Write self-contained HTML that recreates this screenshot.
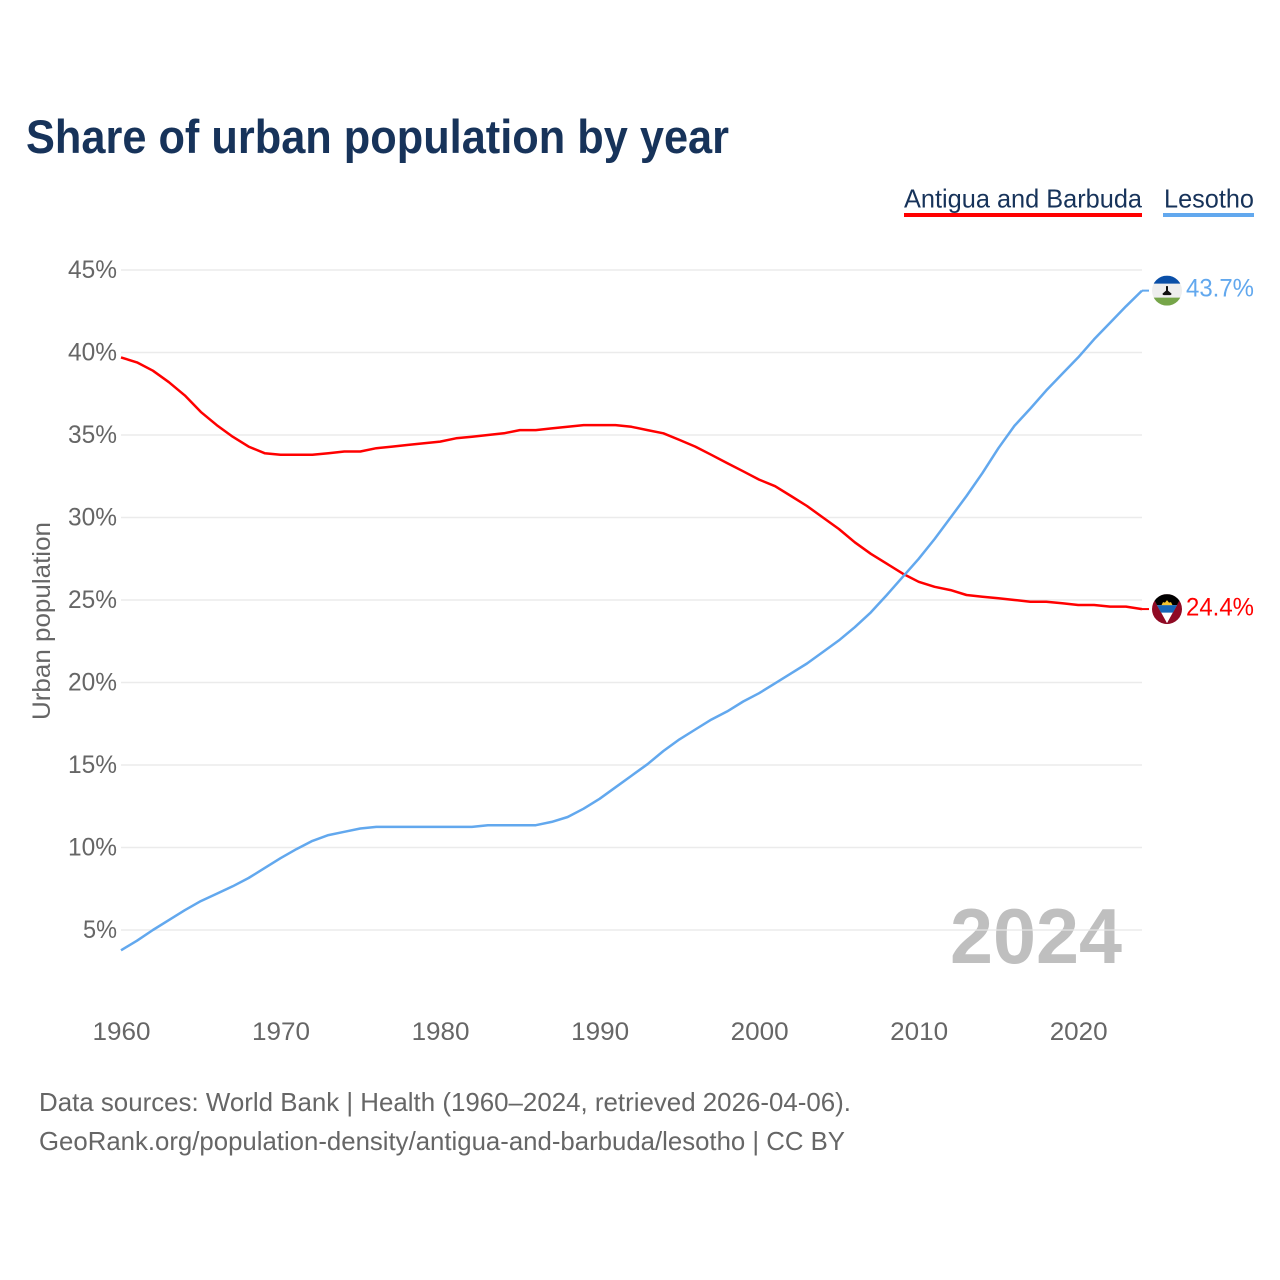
<!DOCTYPE html>
<html lang="en">
<head>
<meta charset="utf-8">
<title>Share of urban population by year</title>
<style>
html,body{margin:0;padding:0;background:#fff;width:1280px;height:1280px;overflow:hidden}
svg{display:block;font-family:"Liberation Sans",sans-serif}
</style>
</head>
<body>
<svg id="chart" xmlns="http://www.w3.org/2000/svg" width="1280" height="1280" viewBox="0 0 1280 1280">
  <defs>
    <clipPath id="clip-ls"><circle cx="0" cy="0" r="15"/></clipPath>
    <clipPath id="clip-ag"><circle cx="0" cy="0" r="15"/></clipPath>
  </defs>
  <rect width="1280" height="1280" fill="#fff"/>
  <text x="26" y="153" font-size="47" font-weight="700" fill="#17335a" textLength="703" lengthAdjust="spacingAndGlyphs">Share of urban population by year</text>

  <g>
    <text x="904" y="207.5" font-size="26" fill="#17335a" textLength="238" lengthAdjust="spacingAndGlyphs">Antigua and Barbuda</text>
    <rect x="904" y="213" width="238" height="4" fill="#ff0000"/>
  </g>
  <g>
    <text x="1164" y="207.5" font-size="26" fill="#17335a" textLength="90" lengthAdjust="spacingAndGlyphs">Lesotho</text>
    <rect x="1163" y="213" width="91" height="4" fill="#62a8ee"/>
  </g>

  <text x="1122" y="963" text-anchor="end" font-size="78" font-weight="700" fill="#bfbfbf" textLength="172" lengthAdjust="spacingAndGlyphs">2024</text>
  <g id="grid"></g>
  <g id="yticks"></g>
  <g id="xticks"></g>
  <text transform="translate(50,621) rotate(-90)" text-anchor="middle" font-size="25" fill="#666" textLength="198" lengthAdjust="spacingAndGlyphs">Urban population</text>

  <g id="series"></g>
  <g id="flags"></g>
  <g id="endlabels"></g>

  <text x="39" y="1111" font-size="26" fill="#666" textLength="812" lengthAdjust="spacingAndGlyphs">Data sources: World Bank | Health (1960–2024, retrieved 2026-04-06).</text>
  <text x="39" y="1150" font-size="26" fill="#666" textLength="806" lengthAdjust="spacingAndGlyphs">GeoRank.org/population-density/antigua-and-barbuda/lesotho | CC BY</text>
</svg>
<script>
const startYear = 1960;
const endYear = 2024;
const yTicks = [5, 10, 15, 20, 25, 30, 35, 40, 45];
const xTicks = [1960, 1970, 1980, 1990, 2000, 2010, 2020];
const antiguaValues = [
  39.7, 39.4, 38.9, 38.2, 37.4, 36.4, 35.6, 34.9, 34.3, 33.9,
  33.8, 33.8, 33.8, 33.9, 34.0, 34.0, 34.2, 34.3, 34.4, 34.5,
  34.6, 34.8, 34.9, 35.0, 35.1, 35.3, 35.3, 35.4, 35.5, 35.6,
  35.6, 35.6, 35.5, 35.3, 35.1, 34.7, 34.3, 33.8, 33.3, 32.8,
  32.3, 31.9, 31.3, 30.7, 30.0, 29.3, 28.5, 27.8, 27.2, 26.6,
  26.1, 25.8, 25.6, 25.3, 25.2, 25.1, 25.0, 24.9, 24.9, 24.8,
  24.7, 24.7, 24.6, 24.6, 24.45
];
const lesothoValues = [
  3.77, 4.35, 5.0, 5.6, 6.2, 6.75, 7.2, 7.65, 8.15, 8.75,
  9.35, 9.9, 10.4, 10.75, 10.95, 11.15, 11.25, 11.25, 11.25, 11.25,
  11.25, 11.25, 11.25, 11.35, 11.35, 11.35, 11.35, 11.55, 11.85, 12.35,
  12.95, 13.65, 14.35, 15.05, 15.85, 16.55, 17.15, 17.75, 18.25, 18.85,
  19.35, 19.95, 20.55, 21.15, 21.85, 22.55, 23.35, 24.25, 25.3, 26.4,
  27.5, 28.7, 30.0, 31.3, 32.7, 34.2, 35.55, 36.6, 37.7, 38.7,
  39.7, 40.8, 41.8, 42.8, 43.75
];
const antiguaEndLabel = "24.4%";
const lesothoEndLabel = "43.7%";

const NS = "http://www.w3.org/2000/svg";
const xScale = function (year) { return 121 + (year - startYear) * (1021 / (endYear - startYear)); };
const yScale = function (value) { return 270 + (45 - value) * 16.5; };
const make = function (parent, tag) {
  const el = document.createElementNS(NS, tag);
  document.getElementById(parent).appendChild(el);
  return el;
};

yTicks.forEach(function (t) {
  const line = make("grid", "line");
  
  
  line.setAttribute("x1", 121);
  line.setAttribute("x2", 1142);
  line.setAttribute("y1", yScale(t));
  line.setAttribute("y2", yScale(t));
  line.setAttribute("stroke", "#e6e6e6");
  line.setAttribute("stroke-opacity", "0.8");
  line.setAttribute("stroke-width", "1.5");

  const label = make("yticks", "text");
  
  
  label.setAttribute("x", 117);
  label.setAttribute("y", yScale(t) + 8);
  label.setAttribute("text-anchor", "end");
  label.setAttribute("font-size", "25");
  label.setAttribute("fill", "#666");
  label.setAttribute("textLength", t < 10 ? 34 : 49);
  label.setAttribute("lengthAdjust", "spacingAndGlyphs");
  label.textContent = t + "%";
});

xTicks.forEach(function (t) {
  const label = make("xticks", "text");
  
  
  label.setAttribute("x", xScale(t) + 0.5);
  label.setAttribute("y", 1040);
  label.setAttribute("text-anchor", "middle");
  label.setAttribute("font-size", "25");
  label.setAttribute("fill", "#666");
  label.setAttribute("textLength", "58");
  label.setAttribute("lengthAdjust", "spacingAndGlyphs");
  label.textContent = t;
});

const pathFor = function (values) {
  return values.map(function (v, i) {
    return (i ? "L" : "M") + xScale(startYear + i).toFixed(1) + " " + yScale(v).toFixed(1);
  }).join(" ");
};

const redLine = make("series", "path");


redLine.setAttribute("d", pathFor(antiguaValues));
redLine.setAttribute("fill", "none");
redLine.setAttribute("stroke", "#ff0000");
redLine.setAttribute("stroke-width", "2.5");
redLine.setAttribute("stroke-linejoin", "round");

const blueLine = make("series", "path");


blueLine.setAttribute("d", pathFor(lesothoValues));
blueLine.setAttribute("fill", "none");
blueLine.setAttribute("stroke", "#62a8ee");
blueLine.setAttribute("stroke-width", "2.5");
blueLine.setAttribute("stroke-linejoin", "round");

const flagX = 1167;
const lastBlue = lesothoValues[lesothoValues.length - 1];
const lastRed = antiguaValues[antiguaValues.length - 1];
const flagBlueY = yScale(lastBlue);
const flagRedY = yScale(lastRed);

const blueStub = make("series", "line");


blueStub.setAttribute("x1", xScale(endYear));
blueStub.setAttribute("x2", 1149);
blueStub.setAttribute("y1", yScale(lastBlue));
blueStub.setAttribute("y2", yScale(lastBlue));
blueStub.setAttribute("stroke", "#62a8ee");
blueStub.setAttribute("stroke-width", "2");

const redStub = make("series", "line");


redStub.setAttribute("x1", xScale(endYear));
redStub.setAttribute("x2", 1149);
redStub.setAttribute("y1", yScale(lastRed));
redStub.setAttribute("y2", yScale(lastRed));
redStub.setAttribute("stroke", "#ff0000");
redStub.setAttribute("stroke-width", "2");

const lsFlag = make("flags", "g");


lsFlag.setAttribute("transform", "translate(" + flagX + "," + flagBlueY + ")");
lsFlag.setAttribute("clip-path", "url(#clip-ls)");
lsFlag.innerHTML =
  '<rect x="-15" y="-15" width="30" height="30" fill="#eeeeee"/>' +
  '<rect x="-15" y="-15" width="30" height="8" fill="#0a4fa8"/>' +
  '<rect x="-15" y="7" width="30" height="8" fill="#76a549"/>' +
  '<path d="M-1 -4.5H1V0L4.5 3Q4.5 4.5 3 4.5H-3Q-4.5 4.5 -4.5 3L-1 0Z" fill="#111"/>';

const agFlag = make("flags", "g");


agFlag.setAttribute("transform", "translate(" + flagX + "," + flagRedY + ")");
agFlag.setAttribute("clip-path", "url(#clip-ag)");
agFlag.innerHTML =
  '<rect x="-15" y="-15" width="30" height="30" fill="#8f0a24"/>' +
  '<path d="M-16 -15H16L0 14Z" fill="#fff"/>' +
  '<path d="M-16 -15H16L10 -4H-10Z" fill="#000"/>' +
  '<path d="M-10 -4H10L6 3.5H-6Z" fill="#1566b8"/>' +
  '<path d="M-5.5 -4L-4 -7L-2 -6.5L0 -9L2 -6.5L4 -7L5.5 -4Z" fill="#f4c430"/>';

const redText = make("endlabels", "text");


redText.setAttribute("x", 1186);
redText.setAttribute("y", 615.5);
redText.setAttribute("font-size", "25");
redText.setAttribute("fill", "#ff0000");
redText.setAttribute("textLength", "68");
redText.setAttribute("lengthAdjust", "spacingAndGlyphs");
redText.textContent = antiguaEndLabel;

const blueText = make("endlabels", "text");


blueText.setAttribute("x", 1186);
blueText.setAttribute("y", 296.5);
blueText.setAttribute("font-size", "25");
blueText.setAttribute("fill", "#62a8ee");
blueText.setAttribute("textLength", "68");
blueText.setAttribute("lengthAdjust", "spacingAndGlyphs");
blueText.textContent = lesothoEndLabel;
</script>
</body>
</html>
